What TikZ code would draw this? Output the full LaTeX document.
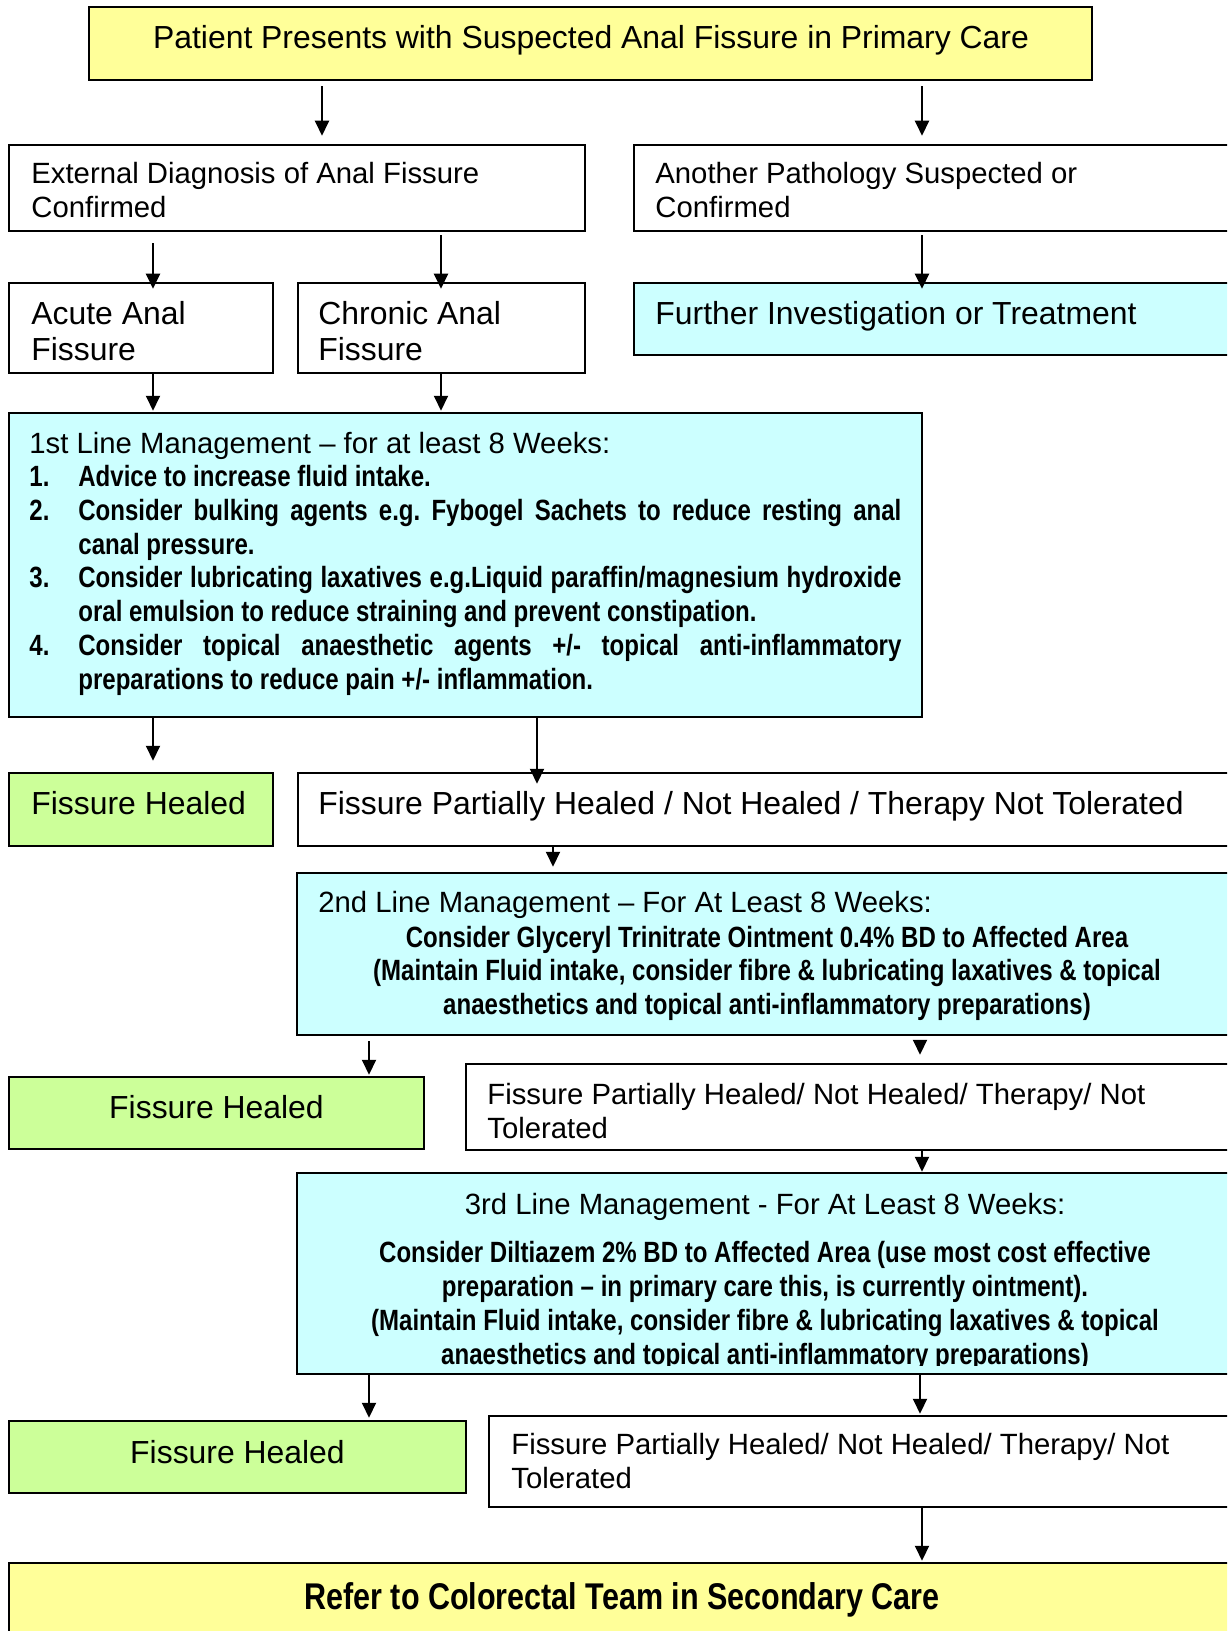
\documentclass[tikz,border=0pt]{standalone}
\usepackage{fontspec}
\setmainfont{Liberation Sans}
\newfontfamily\nbfam{Liberation Sans}[FakeStretch=0.82]
\usetikzlibrary{arrows.meta,fit}
\definecolor{cyanbox}{HTML}{CCFFFF}
\definecolor{yellowbox}{HTML}{FFFF99}
\definecolor{greenbox}{HTML}{CCFF99}
\frenchspacing
\newcommand\fnorm{\normalfont\fontsize{14.65pt}{17pt}\selectfont}
\newcommand\fbig{\normalfont\fontsize{15.95pt}{18pt}\selectfont}
\newcommand\fbold{\nbfam\bfseries\fontsize{14.65pt}{16.85pt}\selectfont\frenchspacing}
\newcommand\frefer{\nbfam\bfseries\fontsize{18.6pt}{20pt}\selectfont}
\begin{document}
\begin{tikzpicture}[x=0.5pt,y=-0.5pt]
\tikzset{
  box/.style={draw=black, line width=1.25pt, inner sep=0pt},
  txt/.style={inner sep=0pt, anchor=base west, align=left},
  ctxt/.style={inner sep=0pt, anchor=base, align=center},
  arr/.style={line width=1pt, -{Triangle[length=7.5pt,width=7pt]}}
}
\useasboundingbox (0,0) rectangle (1227,1631);
\clip (0,0) rectangle (1227,1631);
\fill[white] (0,0) rectangle (1227,1631);

% boxes
\node[box, fill=yellowbox, fit={(89,7) (1092,80)}] (top) {};
\node[box, fill=white, fit={(9,145) (585,231)}] (ext) {};
\node[box, fill=white, fit={(634,145) (1240,231)}] (other) {};
\node[box, fill=white, fit={(9,283) (273,373)}] (acute) {};
\node[box, fill=white, fit={(298,283) (585,373)}] (chronic) {};
\node[box, fill=cyanbox, fit={(634,283) (1240,355)}] (further) {};
\node[box, fill=cyanbox, fit={(9,413) (922,717)}] (first) {};
\node[box, fill=greenbox, fit={(9,773) (273,846)}] (healedA) {};
\node[box, fill=white, fit={(298,773) (1240,846)}] (partA) {};
\node[box, fill=cyanbox, fit={(297,873) (1240,1035)}] (second) {};
\node[box, fill=greenbox, fit={(9,1077) (424,1149)}] (healedB) {};
\node[box, fill=white, fit={(466,1064) (1240,1150)}] (partB) {};
\node[box, fill=cyanbox, fit={(297,1173) (1240,1374)}] (third) {};
\node[box, fill=greenbox, fit={(9,1421) (466,1493)}] (healedC) {};
\node[box, fill=white, fit={(489,1416) (1240,1507)}] (partC) {};
\node[box, fill=yellowbox, fit={(9,1563) (1240,1660)}] (refer) {};

% texts (multi-line nodes are placed by the baseline of their last line)
\node[ctxt, font=\fbig] (ttop) at (591,49) {Patient Presents with Suspected Anal Fissure in Primary Care};
\node[txt, font=\fnorm] (text) at (31,218) {External Diagnosis of Anal Fissure\\Confirmed};
\node[txt, font=\fnorm] (tother) at (655,218) {Another Pathology Suspected or\\Confirmed};
\node[txt, font=\fbig] (tacute) at (31,360.5) {Acute Anal\\Fissure};
\node[txt, font=\fbig] (tchronic) at (318,360.5) {Chronic Anal\\Fissure};
\node[txt, font=\fbig] (tfurther) at (655,324.5) {Further Investigation or Treatment};
\node[txt, font=\fbold] (tfirst) at (29,689) {{\fnorm 1st Line Management – for at least 8 Weeks:}\\
\makebox[24.5pt][l]{1.}Advice to increase fluid intake.\\
\makebox[24.5pt][l]{2.}\makebox[411.5pt][s]{Consider bulking agents e.g. Fybogel Sachets to reduce resting anal}\\
\hspace*{24.5pt}canal pressure.\\
\makebox[24.5pt][l]{3.}\makebox[411.5pt][s]{Consider lubricating laxatives e.g.Liquid paraffin/magnesium hydroxide}\\
\hspace*{24.5pt}oral emulsion to reduce straining and prevent constipation.\\
\makebox[24.5pt][l]{4.}\makebox[411.5pt][s]{Consider topical anaesthetic agents +/- topical anti-inflammatory}\\
\hspace*{24.5pt}preparations to reduce pain +/- inflammation.};
\node[txt, font=\fbig] (thealedA) at (31,814.5) {Fissure Healed};
\node[txt, font=\fbig] (tpartA) at (318,814.5) {Fissure Partially Healed / Not Healed / Therapy Not Tolerated};
\node[txt, font=\fnorm] (tsecondA) at (318,912) {2nd Line Management – For At Least 8 Weeks:};
\node[ctxt, font=\fbold] (tsecondB) at (767,1014.4) {Consider Glyceryl Trinitrate Ointment 0.4\% BD to Affected Area\\
(Maintain Fluid intake, consider fibre \& lubricating laxatives \& topical\\
anaesthetics and topical anti-inflammatory preparations)};
\node[ctxt, font=\fbig] (thealedB) at (216.5,1118) {Fissure Healed};
\node[txt, font=\fnorm] (tpartB) at (487,1138) {Fissure Partially Healed/ Not Healed/ Therapy/ Not\\Tolerated};
\node[ctxt, font=\fnorm] (tthirdA) at (765,1214) {3rd Line Management - For At Least 8 Weeks:};
\begin{scope}
\clip (297,1173) rectangle (1240,1365);
\node[ctxt, font=\fbold] (tthirdB) at (765,1364) {Consider Diltiazem 2\% BD to Affected Area (use most cost effective\\
preparation – in primary care this, is currently ointment).\\
(Maintain Fluid intake, consider fibre \& lubricating laxatives \& topical\\
anaesthetics and topical anti-inflammatory preparations)};
\end{scope}
\node[ctxt, font=\fbig] (thealedC) at (237.5,1463) {Fissure Healed};
\node[txt, font=\fnorm] (tpartC) at (511,1488) {Fissure Partially Healed/ Not Healed/ Therapy/ Not\\Tolerated};
\node[ctxt, font=\frefer] (trefer) at (622,1609) {Refer to Colorectal Team in Secondary Care};

% connector columns
\coordinate (x153) at (153,0);
\coordinate (x322) at (322,0);
\coordinate (x369) at (369,0);
\coordinate (x441) at (441,0);
\coordinate (x537) at (537,0);
\coordinate (x553) at (553,0);
\coordinate (x920) at (920,0);
\coordinate (x922) at (922,0);

% connectors
\draw[arr, shorten <=2.5pt, shorten >=4pt] (top.south -| x322) -- (ext.north -| x322);
\draw[arr, shorten <=2.5pt, shorten >=4pt] (top.south -| x922) -- (other.north -| x922);
\draw[arr, shorten <=5.5pt, shorten >=-3.5pt] (ext.south -| x153) -- (acute.north -| x153);
\draw[arr, shorten <=1.5pt, shorten >=-3.5pt] (ext.south -| x441) -- (chronic.north -| x441);
\draw[arr, shorten <=1.5pt, shorten >=-3.5pt] (other.south -| x922) -- (further.north -| x922);
\draw[arr, shorten >=0.5pt] (acute.south -| x153) -- (first.north -| x153);
\draw[arr, shorten >=0.5pt] (chronic.south -| x441) -- (first.north -| x441);
\draw[arr, shorten >=5.5pt] (first.south -| x153) -- (healedA.north -| x153);
\draw[arr, shorten >=-6pt] (first.south -| x537) -- (partA.north -| x537);
\draw[arr, shorten >=2.5pt] (partA.south -| x553) -- (second.north -| x553);
\draw[arr, shorten <=2.5pt, shorten >=0.5pt] (second.south -| x369) -- (healedB.north -| x369);
\draw[arr, shorten <=2.5pt, shorten >=4pt] (second.south -| x920) -- (partB.north -| x920);
\draw[arr] (partB.south -| x922) -- (third.north -| x922);
\draw[arr, shorten >=1pt] (third.south -| x369) -- (healedC.north -| x369);
\draw[arr, shorten >=0.5pt] (third.south -| x920) -- (partC.north -| x920);
\draw[arr, shorten >=0.5pt] (partC.south -| x922) -- (refer.north -| x922);
\end{tikzpicture}
\end{document}
